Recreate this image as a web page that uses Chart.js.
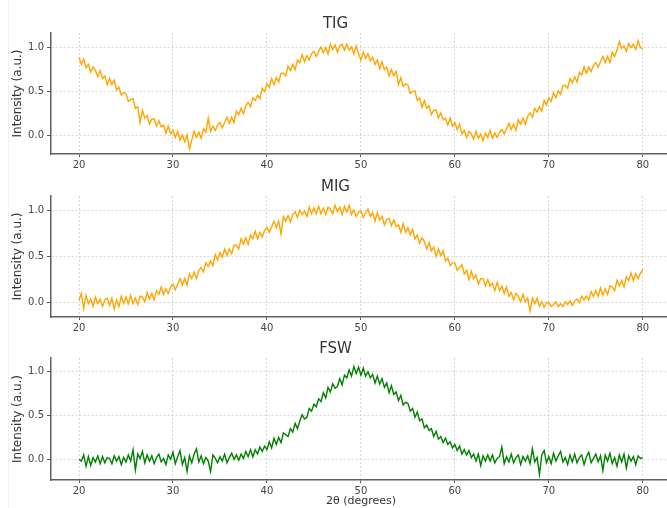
<!DOCTYPE html>
<html>
<head>
<meta charset="utf-8">
<script src="https://cdn.jsdelivr.net/npm/chart.js@4.4.0/dist/chart.umd.min.js"></script>
<style>
  html, body { margin: 0; padding: 0; background: #fff; }
  body { width: 667px; height: 508px; overflow: hidden; position: relative; }
  canvas { position: absolute; left: 0; }
  .edge { position: absolute; left: 8px; top: 0; width: 1px; height: 508px; background: #f0f0f0; }
</style>
</head>
<body>
<div class="edge"></div>
<canvas id="tig" width="671" height="173" style="top:11px"></canvas>
<canvas id="mig" width="671" height="173" style="top:174px"></canvas>
<canvas id="fsw" width="671" height="174" style="top:336px"></canvas>
<script>
// 2θ grid: 20 to 80 deg, every 0.25 deg
var thetaStart = 20;
var thetaStep = 0.25;
var xTicks = [20, 30, 40, 50, 60, 70, 80];
var yTicks = [0, 0.5, 1.0];

var tigValues = [
  0.89,0.81,0.87,0.77,0.81,0.72,0.78,0.74,0.67,0.74,
  0.65,0.68,0.58,0.65,0.58,0.63,0.52,0.55,0.46,0.49,
  0.48,0.39,0.41,0.42,0.31,0.33,0.15,0.29,0.20,0.23,
  0.13,0.19,0.19,0.11,0.17,0.10,0.12,0.03,0.11,0.02,
  0.06,-0.02,0.05,-0.05,0.01,-0.07,0.01,-0.15,-0.05,0.05,
  -0.02,0.04,-0.03,0.08,0.04,0.20,0.05,0.11,0.06,0.12,
  0.15,0.09,0.15,0.21,0.14,0.21,0.15,0.28,0.24,0.31,
  0.25,0.34,0.38,0.33,0.43,0.40,0.46,0.42,0.54,0.50,
  0.59,0.55,0.65,0.58,0.66,0.61,0.71,0.71,0.68,0.79,
  0.74,0.81,0.75,0.86,0.83,0.92,0.84,0.91,0.86,0.93,
  0.96,0.90,0.96,1.01,0.94,1.00,0.93,1.04,0.98,1.03,
  0.95,1.02,1.04,0.97,1.04,0.97,1.01,0.93,1.02,0.93,
  0.86,0.95,0.88,0.93,0.85,0.89,0.81,0.86,0.76,0.84,
  0.75,0.78,0.68,0.75,0.68,0.73,0.58,0.66,0.56,0.59,
  0.58,0.48,0.50,0.51,0.40,0.43,0.32,0.40,0.31,0.34,
  0.24,0.29,0.29,0.20,0.26,0.18,0.20,0.12,0.20,0.11,
  0.15,0.07,0.13,0.02,0.06,-0.02,0.05,0.02,-0.04,0.05,
  -0.03,0.02,-0.06,0.03,-0.02,0.06,-0.03,0.03,-0.02,0.04,
  0.07,0.02,0.08,0.14,0.07,0.13,0.06,0.18,0.13,0.20,
  0.13,0.22,0.26,0.21,0.31,0.27,0.33,0.28,0.40,0.35,
  0.43,0.39,0.49,0.43,0.51,0.47,0.57,0.57,0.54,0.65,
  0.60,0.67,0.61,0.72,0.69,0.78,0.71,0.78,0.73,0.80,
  0.83,0.78,0.84,0.90,0.83,0.90,0.83,0.95,0.90,0.97,
  1.07,0.99,1.02,0.96,1.05,1.00,1.04,0.98,1.08,1.00,
  0.99
];

var migValues = [
  0.03,0.10,-0.06,0.08,-0.01,0.04,-0.04,0.06,-0.01,0.04,
  -0.04,0.03,0.05,-0.03,0.05,-0.07,0.03,-0.04,0.07,-0.01,
  0.06,-0.01,0.08,-0.01,0.05,-0.02,0.07,0.06,0.01,0.11,
  0.04,0.10,0.03,0.13,0.09,0.17,0.09,0.15,0.10,0.17,
  0.20,0.14,0.20,0.26,0.19,0.26,0.19,0.31,0.26,0.33,
  0.26,0.35,0.38,0.33,0.43,0.39,0.45,0.40,0.52,0.46,
  0.54,0.49,0.58,0.51,0.58,0.53,0.62,0.62,0.58,0.69,
  0.63,0.70,0.63,0.73,0.69,0.77,0.69,0.76,0.71,0.78,
  0.81,0.76,0.82,0.88,0.81,0.88,0.74,0.93,0.88,0.94,
  0.87,0.95,0.98,0.92,1.00,0.95,0.99,0.93,1.03,0.96,
  1.02,0.96,1.04,0.96,1.02,0.95,1.03,1.01,0.96,1.05,
  0.98,1.03,0.95,1.04,0.98,1.05,0.95,1.00,0.93,0.98,
  0.99,0.92,0.97,1.01,0.93,0.97,0.88,0.97,0.89,0.93,
  0.84,0.90,0.91,0.83,0.89,0.82,0.84,0.76,0.85,0.76,
  0.81,0.73,0.79,0.69,0.73,0.64,0.70,0.66,0.58,0.65,
  0.56,0.60,0.50,0.58,0.51,0.56,0.45,0.48,0.40,0.43,
  0.43,0.35,0.38,0.41,0.31,0.35,0.25,0.34,0.26,0.30,
  0.20,0.26,0.26,0.18,0.25,0.18,0.21,0.13,0.22,0.13,
  0.18,0.10,0.17,0.07,0.11,0.03,0.10,0.07,0.01,0.09,
  0.01,0.05,-0.09,0.05,-0.01,0.05,-0.04,0.01,-0.05,0.00,
  0.00,-0.04,-0.02,0.01,-0.04,-0.01,-0.04,0.01,-0.02,0.02,
  -0.03,0.02,0.04,0.00,0.07,0.03,0.07,0.03,0.12,0.07,
  0.13,0.07,0.16,0.08,0.15,0.09,0.18,0.17,0.13,0.24,
  0.18,0.24,0.17,0.28,0.24,0.32,0.24,0.31,0.26,0.32,
  0.36
];

var fswValues = [
  0.00,-0.02,0.05,-0.08,0.03,-0.07,0.02,-0.03,0.04,-0.05,
  0.03,-0.04,0.02,0.01,-0.05,0.04,-0.02,0.03,-0.06,0.02,
  -0.03,0.05,-0.02,0.11,-0.12,0.06,0.01,0.09,-0.04,0.05,
  -0.02,0.04,-0.05,0.02,0.06,-0.03,0.01,-0.06,0.05,0.00,
  0.08,-0.05,0.03,0.10,-0.06,0.02,-0.14,0.04,-0.04,0.06,
  0.12,-0.03,0.04,-0.05,0.02,-0.02,-0.14,0.05,0.01,-0.04,
  0.03,-0.02,0.06,-0.04,0.02,0.07,0.00,0.05,-0.01,0.06,
  0.01,0.09,0.03,0.11,0.03,0.11,0.06,0.14,0.09,0.15,
  0.11,0.20,0.13,0.24,0.17,0.25,0.19,0.30,0.28,0.26,
  0.35,0.31,0.41,0.35,0.44,0.51,0.46,0.48,0.58,0.55,
  0.63,0.60,0.69,0.66,0.76,0.70,0.82,0.77,0.86,0.81,
  0.83,0.92,0.85,0.96,0.93,1.02,0.95,1.06,0.98,1.05,
  0.96,1.04,0.95,1.00,0.93,0.97,0.87,0.95,0.86,0.92,
  0.82,0.87,0.76,0.84,0.74,0.77,0.67,0.73,0.62,0.65,
  0.64,0.55,0.58,0.48,0.54,0.44,0.46,0.36,0.39,0.33,
  0.35,0.26,0.32,0.23,0.26,0.19,0.24,0.17,0.20,0.13,
  0.17,0.10,0.15,0.06,0.11,0.05,0.10,0.02,0.06,-0.02,
  0.06,-0.07,0.04,-0.02,0.05,-0.02,0.05,-0.04,0.01,0.03,
  0.14,-0.05,0.03,-0.03,0.06,-0.04,0.02,0.05,-0.06,0.03,
  -0.02,0.04,-0.05,0.12,-0.03,0.02,-0.17,0.05,0.10,-0.04,
  0.03,-0.05,0.07,-0.02,0.04,0.09,-0.03,0.02,-0.06,0.05,
  -0.03,0.06,-0.04,0.02,0.05,-0.06,0.03,0.08,-0.04,0.01,
  0.06,-0.03,0.04,-0.13,0.05,-0.02,0.07,-0.05,0.02,-0.08,
  0.05,-0.03,0.06,-0.10,0.04,-0.02,0.03,-0.06,0.04,0.01,
  0.02
];

var FONT = "'DejaVu Sans', sans-serif";
var orange = '#FFA500';
var green = '#008000';

function points(vals) {
  return vals.map(function (v, i) { return {x: thetaStart + i * thetaStep, y: v}; });
}

function panel(id, title, vals, color, yMin, yMax, xTitle) {
  new Chart(document.getElementById(id), {
    type: 'line',
    data: {
      datasets: [{
        data: points(vals),
        borderColor: color,
        borderWidth: 1.4,
        pointRadius: 0,
        tension: 0,
        fill: false
      }]
    },
    options: {
      responsive: false,
      animation: false,
      devicePixelRatio: 1,
      layout: {padding: 0},
      plugins: {
        legend: {display: false},
        tooltip: {enabled: false},
        title: {
          display: true,
          text: title,
          color: '#333',
          font: {family: FONT, size: 15, weight: 'normal'},
          padding: {top: 4, bottom: 0}
        }
      },
      scales: {
        x: {
          type: 'linear',
          min: 17.02,
          max: 83,
          afterBuildTicks: function (s) { s.ticks = xTicks.map(function (v) { return {value: v}; }); },
          afterFit: function (s) { s.height = 30; },
          grid: {color: '#d6d6d6', lineWidth: 1, tickColor: '#555', tickLength: 3, tickBorderDash: []},
          border: {display: true, color: '#606060', width: 1.5, dash: [2, 2]},
          ticks: {color: '#444', font: {family: FONT, size: 10}, padding: 2, maxRotation: 0,
                  callback: function (v) { return v; }},
          title: {display: !!xTitle, text: xTitle || '', color: '#333',
                  font: {family: FONT, size: 11}, padding: {top: 0, bottom: 2.4}}
        },
        y: {
          min: yMin,
          max: yMax,
          afterBuildTicks: function (s) { s.ticks = yTicks.map(function (v) { return {value: v}; }); },
          afterFit: function (s) { s.width = 51; },
          grid: {color: '#d6d6d6', lineWidth: 1, tickColor: '#555', tickLength: 4, tickBorderDash: []},
          border: {display: true, color: '#606060', width: 1.5, dash: [2, 2]},
          ticks: {color: '#444', font: {family: FONT, size: 10}, padding: 3,
                  callback: function (v) { return Number(v).toFixed(1); }},
          title: {display: true, text: 'Intensity (a.u.)', color: '#333',
                  font: {family: FONT, size: 12}, padding: {top: 10.8, bottom: 0}}
        }
      }
    }
  });
}

panel('tig', 'TIG', tigValues, orange, -0.208, 1.167);
panel('mig', 'MIG', migValues, orange, -0.154, 1.151);
panel('fsw', 'FSW', fswValues, green, -0.236, 1.156, '2θ (degrees)');
</script>
</body>
</html>
